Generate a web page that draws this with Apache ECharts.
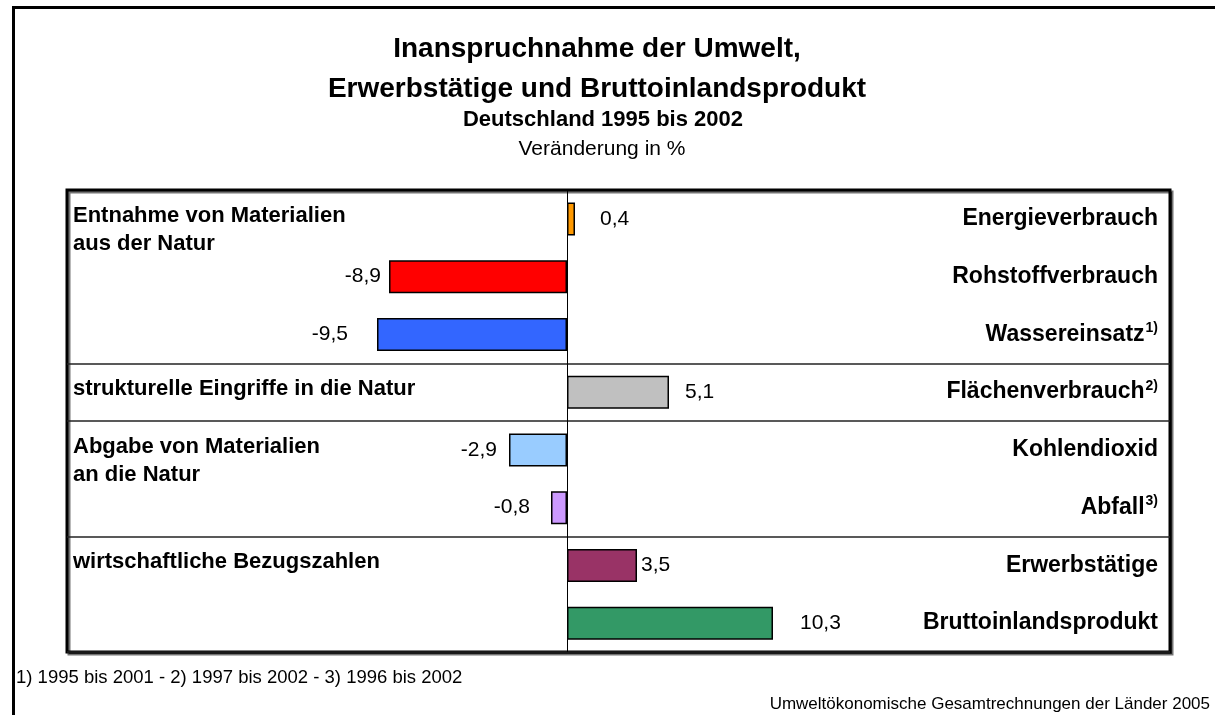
<!DOCTYPE html>
<html><head><meta charset="utf-8">
<script src="https://cdn.jsdelivr.net/npm/echarts@6/dist/echarts.min.js"></script>
<style>html,body{margin:0;padding:0;background:#fff}#c{width:1215px;height:715px}</style>
</head><body><div id="c"></div>
<script>
// ---- data ----
const categories = ['Energieverbrauch', 'Rohstoffverbrauch', 'Wassereinsatz', 'Flächenverbrauch',
  'Kohlendioxid', 'Abfall', 'Erwerbstätige', 'Bruttoinlandsprodukt'];
const footnoteMarks = ['', '', '1)', '2)', '', '3)', '', ''];
const values = [0.4, -8.9, -9.5, 5.1, -2.9, -0.8, 3.5, 10.3];
const groupLabels = ['Entnahme von Materialien\naus der Natur', '', '', 'strukturelle Eingriffe in die Natur',
  'Abgabe von Materialien\nan die Natur', '', 'wirtschaftliche Bezugszahlen', ''];
const groupStarts = [3, 4, 6];
const titleLine1 = 'Inanspruchnahme der Umwelt,';
const titleLine2 = 'Erwerbstätige und Bruttoinlandsprodukt';
const subtitle = 'Deutschland 1995 bis 2002';
const unitText = 'Veränderung in %';
const footnoteText = '1) 1995 bis 2001 - 2) 1997 bis 2002 - 3) 1996 bis 2002';
const sourceText = 'Umweltökonomische Gesamtrechnungen der Länder 2005';

// ---- styles ----
const barColors = ['#FF9900', '#FF0000', '#3366FF', '#C0C0C0', '#99CCFF', '#CC99FF', '#993366', '#339966'];
const labelGaps = [25, 8, 29, 16, 12, 21, 4, 27];
const FONT = '"Liberation Sans", Arial, Helvetica, sans-serif';

const fmt = v => v.toFixed(1).replace('.', ',');

const chart = echarts.init(document.getElementById('c'), null, {renderer: 'canvas'});
chart.setOption({
  backgroundColor: '#fff',
  animation: false,
  textStyle: {fontFamily: FONT},
  title: [
    {text: titleLine1, left: 597, top: 35, textAlign: 'center', padding: 0,
      textStyle: {fontFamily: FONT, fontSize: 28, fontWeight: 'bold', color: '#000'}},
    {text: titleLine2, left: 597, top: 75, textAlign: 'center', padding: 0,
      textStyle: {fontFamily: FONT, fontSize: 28, fontWeight: 'bold', color: '#000'}},
    {text: subtitle, left: 603, top: 109, textAlign: 'center', padding: 0,
      textStyle: {fontFamily: FONT, fontSize: 22, fontWeight: 'bold', color: '#000'}},
    {text: unitText, left: 602, top: 139, textAlign: 'center', padding: 0,
      textStyle: {fontFamily: FONT, fontSize: 21, fontWeight: 'normal', color: '#000'}},
    {text: footnoteText, left: 16, top: 668, padding: 0,
      textStyle: {fontFamily: FONT, fontSize: 18.5, fontWeight: 'normal', color: '#000'}},
    {text: sourceText, right: 5, top: 696, padding: 0,
      textStyle: {fontFamily: FONT, fontSize: 17, fontWeight: 'normal', color: '#000'}}
  ],
  graphic: [{
    type: 'rect', left: 11, top: 5, silent: true,
    shape: {width: 1260, height: 800},
    style: {fill: null, stroke: '#000', lineWidth: 3}
  }],
  grid: {
    left: 67, right: 45, top: 190, bottom: 63,
    show: true, backgroundColor: '#fff', borderColor: '#000', borderWidth: 3,
    shadowColor: 'rgba(0,0,0,0.55)', shadowOffsetX: 2, shadowOffsetY: 2, shadowBlur: 0
  },
  xAxis: {
    type: 'value', min: -25, max: 30.15,
    axisLine: {show: false}, axisTick: {show: false}, axisLabel: {show: false}, splitLine: {show: false}
  },
  yAxis: [
    {
      type: 'category', data: groupLabels, inverse: true, position: 'left',
      axisLine: {show: false}, axisTick: {show: false},
      splitLine: {show: true, interval: (i) => groupStarts.includes(i),
        lineStyle: {color: '#222', width: 1.5}},
      axisLabel: {
        inside: true, margin: 6, verticalAlign: 'top', padding: [-17, 0, 0, 0],
        fontFamily: FONT, fontSize: 22, fontWeight: 'bold', color: '#000', lineHeight: 28, interval: 0
      }
    },
    {
      type: 'category', data: categories, inverse: true, position: 'right',
      axisLine: {show: false, onZero: false}, axisTick: {show: false}, splitLine: {show: false},
      axisLabel: {
        inside: true, margin: 12, interval: 0,
        formatter: (val, idx) => footnoteMarks[idx] ? `{b|${val}}{s|${footnoteMarks[idx]}}` : `{b|${val}}`,
        rich: {
          b: {fontFamily: FONT, fontSize: 23, fontWeight: 'bold', color: '#000'},
          s: {fontFamily: FONT, fontSize: 14, fontWeight: 'bold', color: '#000', verticalAlign: 'top', padding: [0, 0, 12, 1]}
        }
      }
    }
  ],
  series: [{
    type: 'bar', yAxisIndex: 1, barWidth: 33,
    data: values.map((v, i) => ({
      value: v,
      itemStyle: {color: barColors[i]},
      label: {position: v < 0 ? 'left' : 'right', distance: labelGaps[i]}
    })),
    itemStyle: {borderColor: '#000', borderWidth: 1.5},
    label: {show: true, formatter: p => fmt(p.value), fontFamily: FONT, fontSize: 21, color: '#000'},
    markLine: {
      silent: true, symbol: 'none', label: {show: false},
      lineStyle: {color: '#000', width: 1, type: 'solid'},
      data: [{xAxis: 0}]
    }
  }]
});
</script></body></html>
